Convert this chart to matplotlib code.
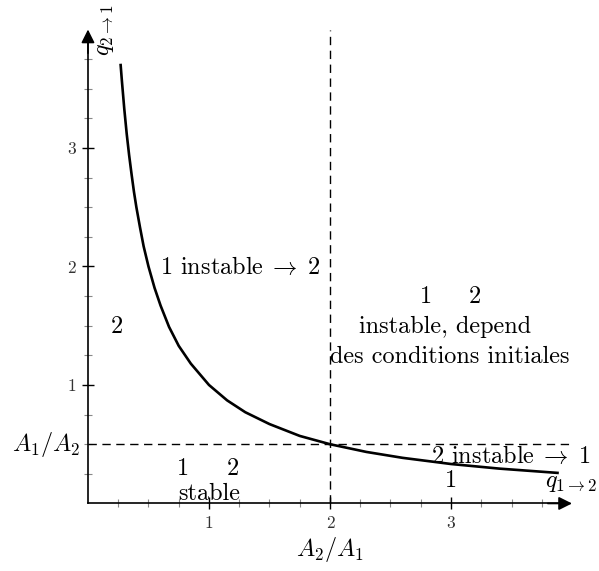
import matplotlib
matplotlib.use('Agg')
import matplotlib.pyplot as plt
import numpy as np

plt.rcParams['font.family'] = ['cmr10', 'DejaVu Serif']
plt.rcParams['mathtext.fontset'] = 'cm'

# curve (A2/A1 -> A1/A2 boundary)
curve_x = [0.27, 0.28, 0.29, 0.30, 0.32, 0.34, 0.36, 0.38, 0.40, 0.43, 0.46, 0.50,
           0.55, 0.60, 0.67, 0.75, 0.85, 1.00, 1.15, 1.30, 1.50, 1.75, 2.00, 2.30,
           2.60, 3.00, 3.40, 3.88]
curve_y = [3.70, 3.57, 3.45, 3.33, 3.12, 2.94, 2.78, 2.63, 2.50, 2.33, 2.17, 2.00,
           1.82, 1.67, 1.49, 1.33, 1.18, 1.00, 0.87, 0.77, 0.67, 0.57, 0.50, 0.435,
           0.385, 0.333, 0.294, 0.258]

major_ticks = [1, 2, 3]
tick_labels = ['1', '2', '3']
minor_ticks = [0.25, 0.5, 0.75, 1.25, 1.5, 1.75, 2.25, 2.5, 2.75, 3.25, 3.5, 3.75]
ratio_x = 2.0   # vertical dashed line
ratio_y = 0.5   # horizontal dashed line

fig = plt.figure(figsize=(5.99, 5.71), dpi=100)
ax = fig.add_axes([0, 0, 1, 1])
ax.set_xlim(-0.727, 4.223)
ax.set_ylim(-0.570, 4.249)
ax.patch.set_visible(False)

for s in ['top', 'right']:
    ax.spines[s].set_visible(False)
for s in ['left', 'bottom']:
    ax.spines[s].set_position(('data', 0))
    ax.spines[s].set_bounds(0, 3.9)
    ax.spines[s].set_linewidth(1.2)

ax.set_xticks(major_ticks, tick_labels)
ax.set_yticks(major_ticks, tick_labels)
ax.set_xticks(minor_ticks, minor=True)
ax.set_yticks(minor_ticks, minor=True)
ax.tick_params(which='major', direction='inout', length=9, width=1.0, color='black',
               labelsize=12.5, labelcolor='#333333', pad=4)
ax.tick_params(which='minor', direction='inout', length=6, width=0.8, color='#888888')

# arrow heads
arrow = dict(arrowstyle='-|>', color='black', lw=1.2, mutation_scale=20, shrinkA=0, shrinkB=0)
ax.annotate('', xy=(4.0, 0), xytext=(3.8, 0), arrowprops=arrow)
ax.annotate('', xy=(0, 4.0), xytext=(0, 3.8), arrowprops=arrow)

# dashed guides
ax.plot([ratio_x, ratio_x], [0, 4.0], ls=(0, (6, 4)), color='black', lw=1.0)
ax.plot([0, 4.0], [ratio_y, ratio_y], ls=(0, (6, 4)), color='black', lw=1.0)

ax.plot(curve_x, curve_y, color='black', lw=1.9, solid_joinstyle='round')

fs = 17.5
ax.text(0.14, 3.995, r'$q_{2\to1}$', rotation=90, fontsize=fs, ha='center', va='center')
ax.text(4.21, 0.17, r'$q_{1\to2}$', fontsize=fs, ha='right', va='center')
ax.text(-0.06, 0.5, r'$A_1/A_2$', fontsize=fs, ha='right', va='center')
ax.text(2.0, -0.39, r'$A_2/A_1$', fontsize=fs, ha='center', va='center')

ax.text(1.26, 1.99, r'1 instable$\;\rightarrow\;$2', fontsize=fs, ha='center', va='center')
ax.text(0.24, 1.49, '2', fontsize=fs, ha='center', va='center')
ax.text(2.79, 1.74, '1', fontsize=fs, ha='center', va='center')
ax.text(3.20, 1.74, '2', fontsize=fs, ha='center', va='center')
ax.text(2.95, 1.49, 'instable, depend', fontsize=fs, ha='center', va='center')
ax.text(2.99, 1.24, 'des conditions initiales', fontsize=fs, ha='center', va='center')
ax.text(0.785, 0.29, '1', fontsize=fs, ha='center', va='center')
ax.text(1.20, 0.29, '2', fontsize=fs, ha='center', va='center')
ax.text(1.00, 0.08, 'stable', fontsize=fs, ha='center', va='center')
ax.text(3.49, 0.40, r'2 instable$\;\rightarrow\;$1', fontsize=fs, ha='center', va='center')
ax.text(3.00, 0.19, '1', fontsize=fs, ha='center', va='center')

fig.savefig('out.png', dpi=100)
